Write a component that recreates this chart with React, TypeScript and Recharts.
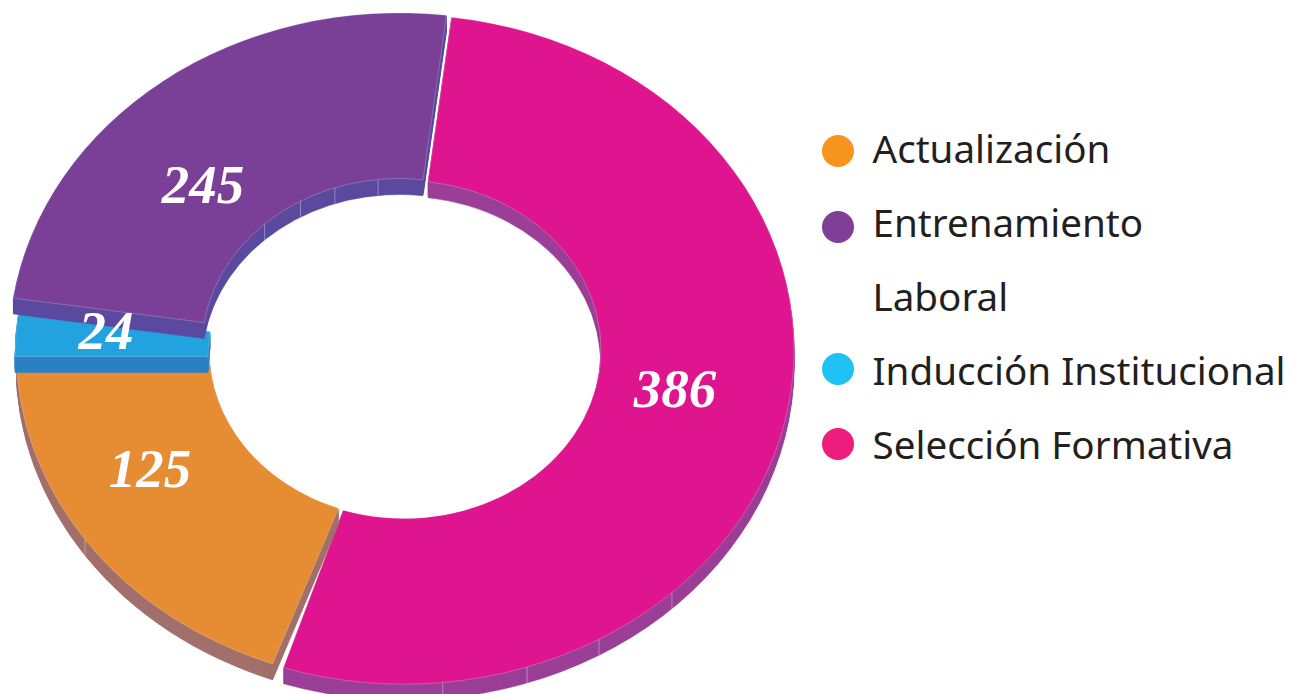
import { Legend, Pie, PieChart } from "recharts";

const CHART_WIDTH = 1290;
const CHART_HEIGHT = 694;

// Order in the ring, clockwise from the top
const sliceNames = ["Selección Formativa", "Actualización", "Inducción Institucional", "Entrenamiento Laboral"];
// Numbers printed on the slices
const printedValues = [386, 125, 24, 245];
// The source drawing does not size slices by the printed numbers, so sweeps (degrees) are read off the picture
const sliceSweeps = [191, 72, 8.5, 88.5];
const topColors = ["#DF148F", "#E68C33", "#22A2DE", "#7A3F96"];
const wallColors = ["#9B3F97", "#A2706C", "#2A80C4", "#5B4A9F"];

const legendLines = [["Actualización"], ["Entrenamiento", "Laboral"], ["Inducción Institucional"], ["Selección Formativa"]];
const legendColors = ["#F7941E", "#7F3F98", "#1FC2F3", "#EE1C7C"];

const SQUASH = 0.858;
const DEPTH = 16;
const SLICE_SHIFT = [[1, 2], [3, 2], [2, 9], [-4, 0]];
const SLICE_TRIM = [0, 2, 0, 0];
const LABEL_SPOTS = [[675, 388], [150, 468], [106, 330], [203, 184]];
const LEGEND_DOT_Y = [31, 107, 249, 324];
// Faint seams on the side walls: clockwise degrees from the top, on the outer or inner rim
const OUTER_SEAMS = [[174.3, 161.6, 150, 136.6], [235.4], [], []];
const INNER_SEAMS = [[], [], [], [317, 330, 341, 353.9]];

const tableData = sliceNames.map((name, i) => ({
  name,
  sweep: sliceSweeps[i],
  printed: printedValues[i],
  fill: topColors[i],
  wall: wallColors[i],
  slot: i,
}));

const rad = Math.PI / 180;

function ringPath(cx: number, cy: number, inner: number, outer: number, start: number, end: number) {
  const px = (r: number, a: number) => (cx + r * Math.cos(a * rad)).toFixed(2);
  const py = (r: number, a: number) => (cy - r * SQUASH * Math.sin(a * rad)).toFixed(2);
  const large = Math.abs(start - end) > 180 ? 1 : 0;
  return [
    `M${px(outer, start)},${py(outer, start)}`,
    `A${outer},${outer * SQUASH} 0 ${large} 1 ${px(outer, end)},${py(outer, end)}`,
    `L${px(inner, end)},${py(inner, end)}`,
    `A${inner},${inner * SQUASH} 0 ${large} 0 ${px(inner, start)},${py(inner, start)}`,
    "Z",
  ].join(" ");
}

function seam(cx: number, cy: number, r: number, deg: number) {
  const a = (90 - deg) * rad;
  const x = cx + r * Math.cos(a);
  const y = cy - r * SQUASH * Math.sin(a);
  return (
    <line key={`${r}-${deg}`} x1={x} y1={y} x2={x} y2={y + DEPTH} stroke="#ffffff" strokeOpacity={0.35} strokeWidth={1} />
  );
}

function TiltedSlice(props: any) {
  const { cx, cy, innerRadius, outerRadius, startAngle, endAngle, fill, wall, slot } = props;
  const [dx, dy] = SLICE_SHIFT[slot];
  const d = ringPath(cx + dx, cy + dy, innerRadius, outerRadius, startAngle - SLICE_TRIM[slot], endAngle);
  const layers = Array.from({ length: DEPTH }, (_, i) => DEPTH - i);
  return (
    <g>
      {layers.map((k) => (
        <path key={k} d={d} fill={wall} stroke={wall} strokeWidth={0.5} transform={`translate(0,${k})`} />
      ))}
      {OUTER_SEAMS[slot].map((deg) => seam(cx + dx, cy + dy, outerRadius, deg))}
      {INNER_SEAMS[slot].map((deg) => seam(cx + dx, cy + dy, innerRadius, deg))}
      <path d={d} fill={fill} stroke="#ffffff" strokeOpacity={0.3} strokeWidth={0.75} />
    </g>
  );
}

function SliceLabel(props: any) {
  const [x, y] = LABEL_SPOTS[props.payload?.slot ?? props.slot];
  return (
    <text
      x={x}
      y={y}
      textAnchor="middle"
      dominantBaseline="central"
      fill="#ffffff"
      fontFamily="'Liberation Serif', serif"
      fontWeight="bold"
      fontStyle="italic"
      fontSize={55}
    >
      {props.payload?.printed ?? props.printed}
    </text>
  );
}

function RingLegend() {
  let row = 0;
  return (
    <svg width={480} height={350} style={{ display: "block" }}>
      {legendLines.map((lines, i) => {
        const first = row;
        row += lines.length;
        return (
          <g key={lines[0]}>
            <circle cx={28} cy={LEGEND_DOT_Y[i]} r={16} fill={legendColors[i]} />
            {lines.map((line, j) => (
              <text
                key={line}
                x={62.5}
                y={43 + (first + j) * 74}
                fontFamily="'Noto Sans', sans-serif"
                fontSize={38.6}
                fill="#231F20"
              >
                {line}
              </text>
            ))}
          </g>
        );
      })}
    </svg>
  );
}

export default function App() {
  return (
    <div style={{ position: "absolute", left: 0, top: 0, width: CHART_WIDTH, height: CHART_HEIGHT, overflow: "hidden", background: "#ffffff" }}>
      <PieChart width={CHART_WIDTH} height={CHART_HEIGHT} margin={{ top: 0, right: 0, bottom: 0, left: 0 }}>
        <Pie
          data={tableData}
          dataKey="sweep"
          nameKey="name"
          cx={403}
          cy={347.5}
          innerRadius={197}
          outerRadius={390}
          startAngle={83}
          endAngle={-277}
          stroke="none"
          shape={TiltedSlice}
          label={SliceLabel}
          labelLine={false}
          isAnimationActive={false}
        />
        <Legend content={RingLegend} wrapperStyle={{ position: "absolute", left: 810, top: 120, width: 480, height: 350 }} />
      </PieChart>
    </div>
  );
}
